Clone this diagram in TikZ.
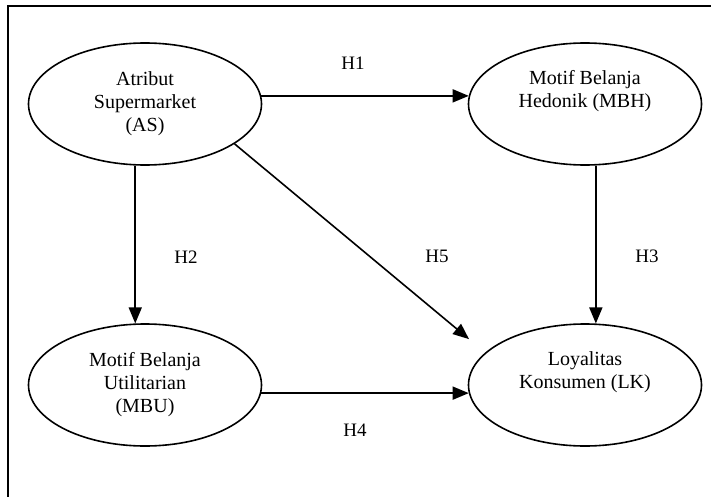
\documentclass[tikz,border=0pt]{standalone}
\usepackage{fontspec}
\setmainfont{Liberation Serif}
\usetikzlibrary{shapes.geometric,arrows.meta,calc}

\begin{document}
\begin{tikzpicture}[x=1pt,y=-1pt,
    ell/.style={draw,ellipse,line width=1.6pt,minimum width=233pt,minimum height=122pt,
      align=center,font=\fontsize{20}{23}\selectfont},
    lbl/.style={font=\fontsize{19}{22}\selectfont,inner sep=0pt},
    >={Triangle[length=16pt,width=13pt]},
    arr/.style={draw,->,line width=1.6pt}]
  \useasboundingbox (0,0) rectangle (711,497);
  % frame (runs off the page right and below)
  \draw[line width=1.8pt] (711,6) -- (8,6) -- (8,497);
  \node[ell] (AS)  at (145,104) {Atribut\\Supermarket\\(AS)};
  \node[ell] (MBH) at (585,104) {Motif Belanja\\Hedonik (MBH)\\\strut};
  \node[ell] (MBU) at (145,385) {Motif Belanja\\Utilitarian\\(MBU)};
  \node[ell] (LK)  at (585,385) {Loyalitas\\Konsumen (LK)\\\strut};
  \draw[arr] (AS.4) -- (MBH.176);
  \draw[arr] (AS.261) -- (MBU.99);
  \draw[arr] (MBH.280) -- (LK.80);
  \draw[arr] (MBU.-4) -- (LK.184);
  \draw[arr,shorten >=21pt] (AS.-24) -- (LK.162.5);
  % hypotheses
  \node[lbl] (h1) at (353,63)  {H1};
  \node[lbl] (h2) at (186,257) {H2};
  \node[lbl] (h3) at (647,256) {H3};
  \node[lbl] (h4) at (355,430) {H4};
  \node[lbl] (h5) at (437,256) {H5};
\end{tikzpicture}
\end{document}
